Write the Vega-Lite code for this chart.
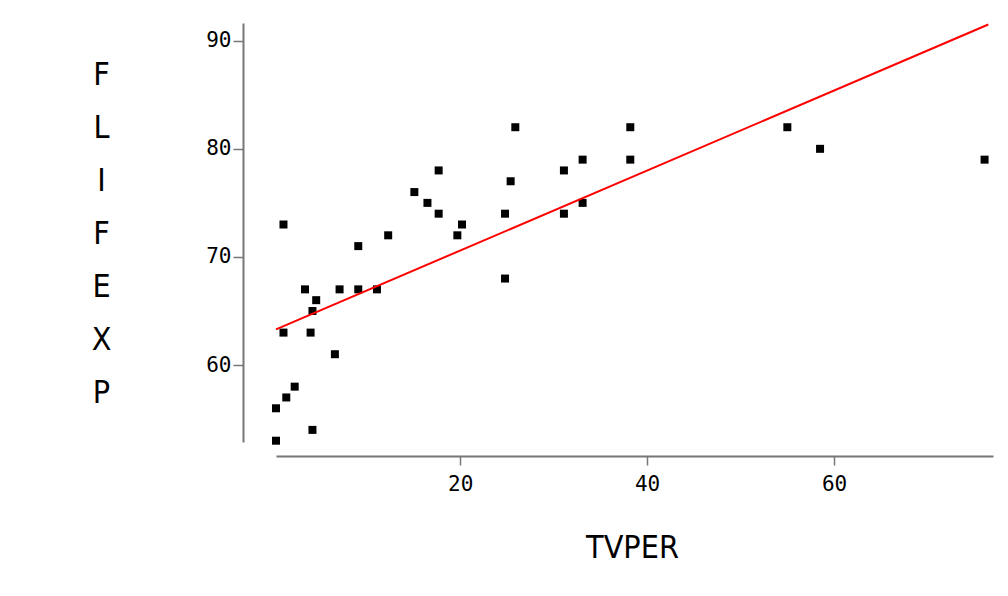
{
  "$schema": "https://vega.github.io/schema/vega-lite/v6.json",
  "width": 717,
  "height": 419,
  "autosize": "none",
  "padding": {"left": 276, "top": 23, "right": 15, "bottom": 154},
  "background": "white",
  "config": {"view": {"stroke": null}},
  "datasets": {
    "points": [
      {"TVPER": 1.1, "FLIFEXP": 73}, {"TVPER": 9.1, "FLIFEXP": 71}, {"TVPER": 12.3, "FLIFEXP": 72},
      {"TVPER": 15.1, "FLIFEXP": 76}, {"TVPER": 16.5, "FLIFEXP": 75}, {"TVPER": 17.7, "FLIFEXP": 78},
      {"TVPER": 17.7, "FLIFEXP": 74}, {"TVPER": 20.2, "FLIFEXP": 73}, {"TVPER": 19.7, "FLIFEXP": 72},
      {"TVPER": 25.9, "FLIFEXP": 82}, {"TVPER": 25.4, "FLIFEXP": 77}, {"TVPER": 24.8, "FLIFEXP": 74},
      {"TVPER": 31.1, "FLIFEXP": 78}, {"TVPER": 31.1, "FLIFEXP": 74}, {"TVPER": 33.1, "FLIFEXP": 79},
      {"TVPER": 33.1, "FLIFEXP": 75}, {"TVPER": 3.4, "FLIFEXP": 67}, {"TVPER": 7.1, "FLIFEXP": 67},
      {"TVPER": 9.1, "FLIFEXP": 67}, {"TVPER": 11.1, "FLIFEXP": 67}, {"TVPER": 4.6, "FLIFEXP": 66},
      {"TVPER": 4.2, "FLIFEXP": 65}, {"TVPER": 1.1, "FLIFEXP": 63}, {"TVPER": 4.0, "FLIFEXP": 63},
      {"TVPER": 6.6, "FLIFEXP": 61}, {"TVPER": 2.3, "FLIFEXP": 58}, {"TVPER": 1.4, "FLIFEXP": 57},
      {"TVPER": 0.3, "FLIFEXP": 56}, {"TVPER": 4.2, "FLIFEXP": 54}, {"TVPER": 0.3, "FLIFEXP": 53},
      {"TVPER": 24.8, "FLIFEXP": 68}, {"TVPER": 38.2, "FLIFEXP": 82}, {"TVPER": 38.2, "FLIFEXP": 79},
      {"TVPER": 55.0, "FLIFEXP": 82}, {"TVPER": 58.5, "FLIFEXP": 80}, {"TVPER": 76.1, "FLIFEXP": 79}
    ],
    "fit": [
      {"TVPER": 0.3, "FLIFEXP": 63.3},
      {"TVPER": 76.5, "FLIFEXP": 91.5}
    ]
  },
  "layer": [
    {
      "data": {"name": "points"},
      "mark": {"type": "point", "shape": "square", "filled": true, "size": 64, "color": "black", "opacity": 1, "clip": false},
      "encoding": {
        "x": {
          "field": "TVPER", "type": "quantitative",
          "scale": {"domain": [0.3, 77], "nice": false, "zero": false},
          "axis": {
            "values": [20, 40, 60], "offset": 14, "grid": false,
            "domainColor": "#777", "domainWidth": 2,
            "tickColor": "#777", "tickSize": 9, "tickWidth": 1.5,
            "labelFont": "DejaVu Sans Mono", "labelFontSize": 21, "labelColor": "black", "labelPadding": 8,
            "title": "TVPER", "titleFont": "Liberation Sans Narrow, DejaVu Sans Condensed, Liberation Sans, sans-serif", "titleFontSize": 32, "titleFontWeight": "normal",
            "titleColor": "black", "titleBaseline": "alphabetic", "titleY": 101, "titleX": 356
          }
        },
        "y": {
          "field": "FLIFEXP", "type": "quantitative",
          "scale": {"domain": [52.88, 91.64], "nice": false, "zero": false},
          "axis": {
            "values": [60, 70, 80, 90], "offset": 33, "grid": false,
            "domainColor": "#777", "domainWidth": 2,
            "tickColor": "#777", "tickSize": 10, "tickWidth": 1.5,
            "labelFont": "DejaVu Sans Mono", "labelFontSize": 21, "labelColor": "black", "labelPadding": 2,
            "title": ["F", "L", "I", "F", "E", "X", "P"], "titleAngle": 0,
            "titleFont": "Liberation Sans Narrow, DejaVu Sans Condensed, Liberation Sans, sans-serif", "titleFontSize": 32, "titleFontWeight": "normal",
            "titleColor": "black", "titleLineHeight": 53, "titleAlign": "center", "titleBaseline": "alphabetic",
            "titleX": -142, "titleY": 61
          }
        }
      }
    },
    {
      "data": {"name": "fit"},
      "mark": {"type": "line", "color": "#ff0000", "strokeWidth": 2, "clip": false},
      "encoding": {
        "x": {"field": "TVPER", "type": "quantitative"},
        "y": {"field": "FLIFEXP", "type": "quantitative"}
      }
    }
  ]
}
